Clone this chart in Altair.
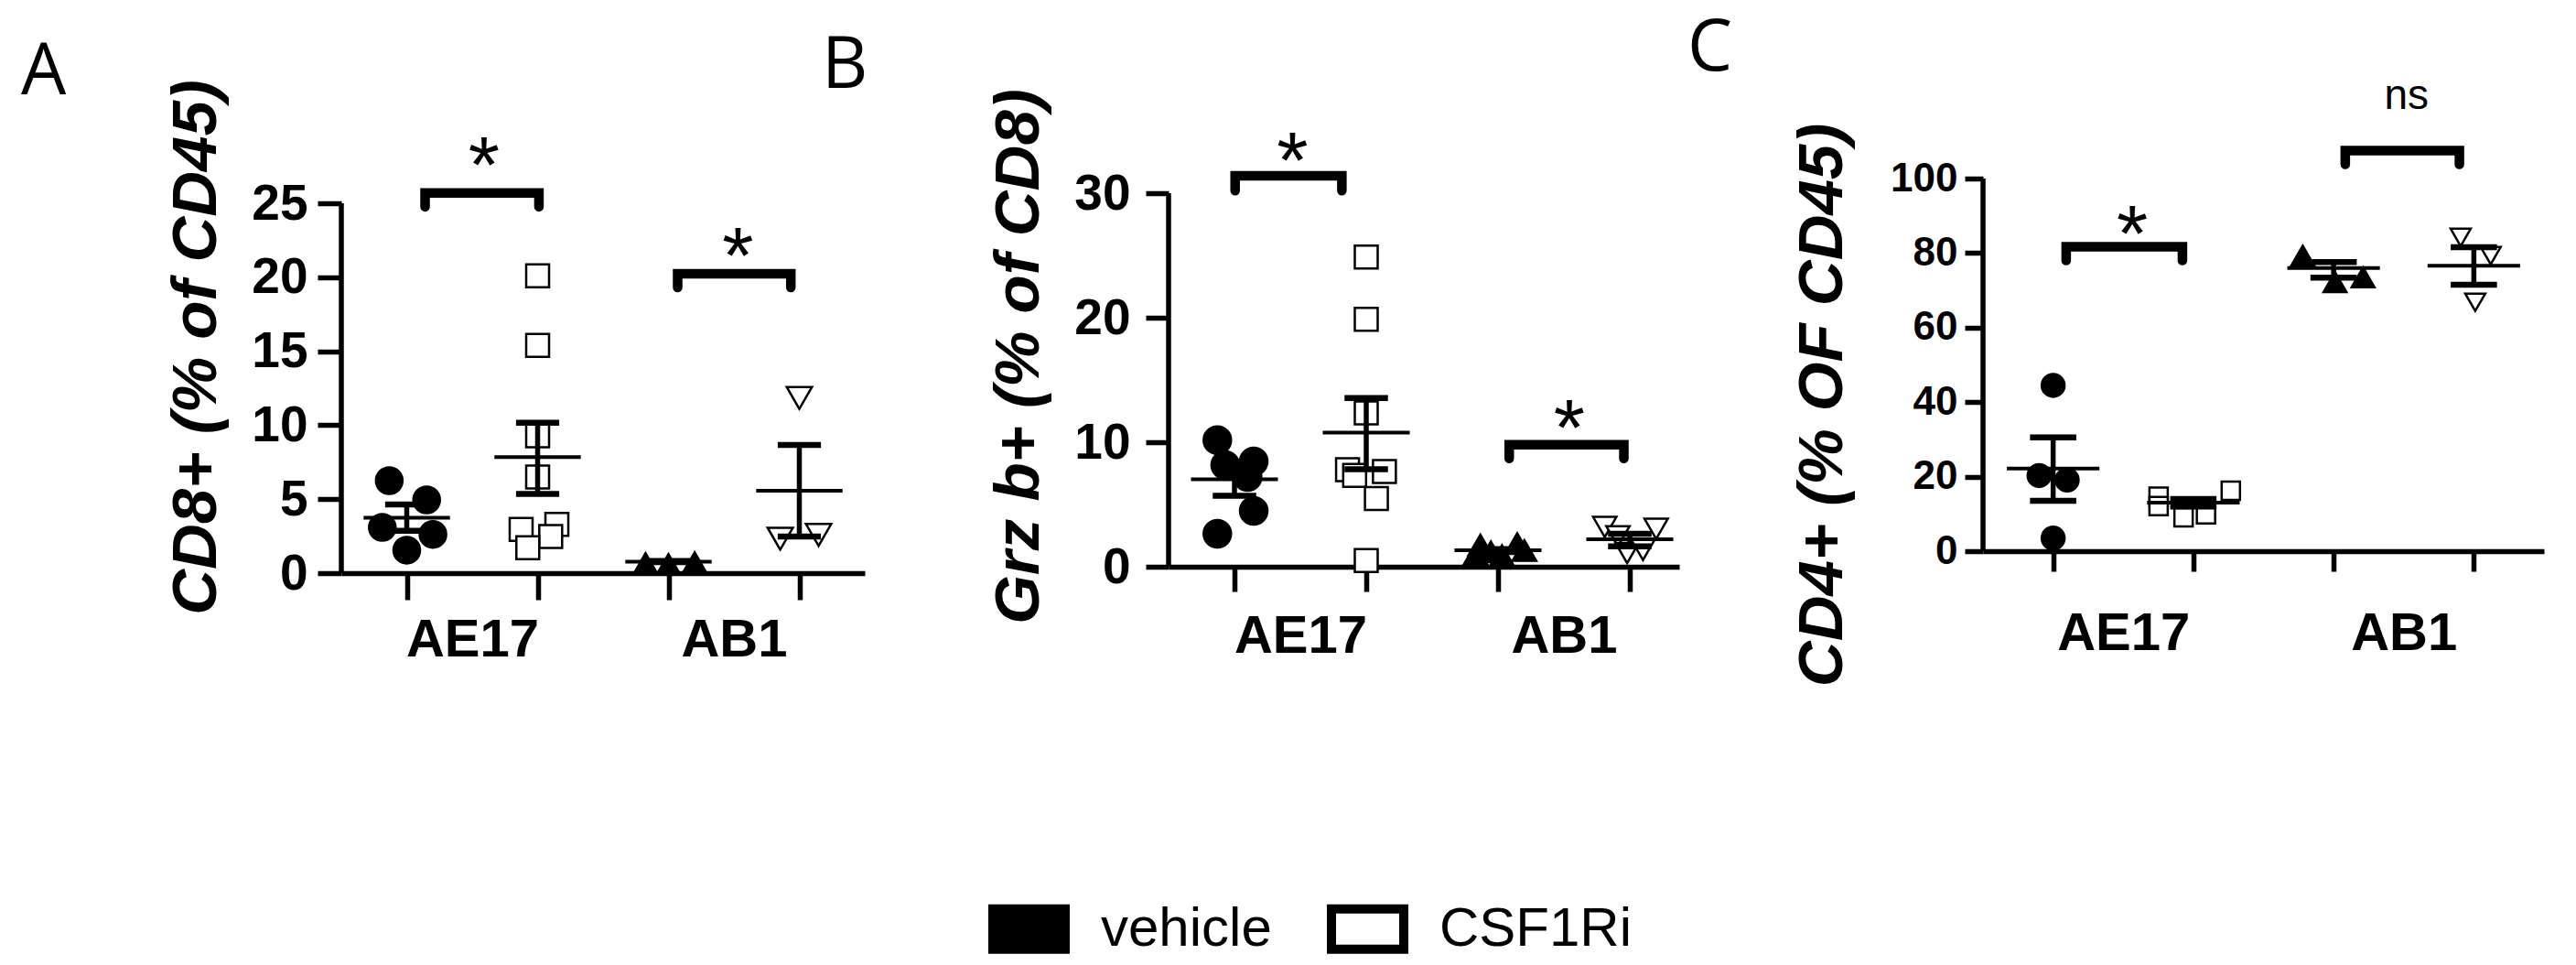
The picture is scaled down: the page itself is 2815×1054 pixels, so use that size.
import altair as alt
import pandas as pd

# ---------------- data ----------------
treat = ["vehicle", "CSF1Ri"]
slot_shapes = ["circle", "square", "triangle-up", "triangle-down"]
groups = ["AE17", "AB1"]

# Panel A : CD8+ (% of CD45)
a_vals = [
    [6.25, 4.95, 3.09, 2.62, 1.55],                      # AE17 vehicle
    [20.1, 15.4, 9.28, 6.5, 2.95, 3.3, 2.47, 1.71],      # AE17 CSF1Ri
    [0.73, 0.67, 0.79],                                  # AB1 vehicle
    [11.84, 2.33, 2.58],                                 # AB1 CSF1Ri
]
a_dx = [
    [-0.134, 0.152, -0.187, 0.2, 0.0],
    [0.0, 0.0, 0.0, 0.0, -0.126, 0.147, 0.1, -0.075],
    [-0.175, 0.0, 0.2],
    [0.0, -0.146, 0.147],
]
a_mean = [3.75, 7.84, 0.78, 5.57]
a_lo = [2.86, 5.36, 0.74, 2.47]
a_hi = [4.64, 10.16, 0.82, 8.66]
a_br_x1 = [1.14, 3.07]
a_br_x2 = [2.01, 3.935]
a_br_top = [25.7, 20.23]
a_br_leg = [24.76, 19.3]
a_lab = ["*", "*"]
a_lab_x = [1.59, 3.53]
a_lab_y = [28.7, 22.57]
a_ticks = [0, 5, 10, 15, 20, 25]

# Panel B : Grz b+ (% of CD8)
b_vals = [
    [10.17, 8.16, 8.46, 7.2, 4.49, 2.65],
    [24.88, 19.87, 12.35, 7.8, 7.33, 7.65, 5.47, 0.49],
    [1.0, 1.74, 1.2, 0.9, 1.86, 1.3],
    [3.19, 3.04, 2.45, 1.1, 1.35],
]
b_dx = [
    [-0.13, -0.07, 0.146, 0.10, 0.146, -0.13],
    [0.0, 0.0, 0.0, -0.142, -0.088, 0.138, 0.077, 0.0],
    [-0.17, -0.134, -0.054, 0.03, 0.146, 0.2],
    [-0.19, 0.2, -0.09, -0.02, 0.1],
]
b_mean = [7.03, 10.78, 1.32, 2.2]
b_lo = [5.69, 7.84, 1.22, 1.64]
b_hi = [8.37, 13.55, 1.42, 2.65]
b_br_x1 = [1.005, 3.085]
b_br_x2 = [1.815, 3.955]
b_br_top = [31.4, 9.8]
b_br_leg = [30.2, 8.7]
b_lab = ["*", "*"]
b_lab_x = [1.44, 3.54]
b_lab_y = [33.97, 12.5]
b_ticks = [0, 10, 20, 30]

# Panel C : CD4+ (% OF CD45)
c_vals = [
    [44.5, 20.3, 19.1, 3.5],
    [16.2, 14.6, 12.1, 9.1, 9.9],
    [79.3, 72.2, 73.5],
    [84.2, 79.3, 66.8],
]
c_dx = [
    [0.0, -0.1, 0.1, 0.0],
    [0.267, -0.248, -0.248, -0.07, 0.09],
    [-0.22, 0.01, 0.21],
    [-0.094, 0.12, 0.01],
]
c_mean = [22.2, 13.0, 76.0, 76.6]
c_lo = [13.5, 12.0, 73.4, 71.5]
c_hi = [30.5, 14.0, 77.6, 81.6]
c_br_x1 = [1.093, 3.083]
c_br_x2 = [1.922, 3.897]
c_br_top = [81.7, 107.5]
c_br_leg = [78.0, 103.8]
c_lab = ["*", "ns"]
c_lab_x = [1.565, 3.52]
c_lab_y = [89.7, 122.0]
c_ticks = [0, 20, 40, 60, 80, 100]

# ---------------- styling ----------------
FONT = "Liberation Sans"

legend = alt.Legend(
    title=None, orient="none", legendX=707, legendY=906, direction="horizontal",
    symbolType="M-1,-0.557H1V0.557H-1Z", symbolSize=6241,
    symbolStrokeColor="black", symbolStrokeWidth=10, symbolOpacity=1,
    labelFont=FONT, labelFontSize=60, labelColor="black", labelLimit=600,
    labelOffset=34, columnPadding=45, padding=0,
)


def points_df(vals, dxs, sizes):
    rows = []
    for s in range(4):
        for v, d in zip(vals[s], dxs[s]):
            rows.append({"xp": s + 1 + d, "val": v, "trt": treat[s % 2],
                         "shp": slot_shapes[s], "sz": sizes[s]})
    return pd.DataFrame(rows)


def summary_df(mean, lo, hi):
    pos = [1, 2, 3, 4]
    return pd.DataFrame({
        "pos": pos, "mean": mean, "lo": lo, "hi": hi,
        "ml": [p - 0.33 for p in pos], "mr": [p + 0.33 for p in pos],
        "cl": [p - 0.165 for p in pos], "cr": [p + 0.165 for p in pos],
    })


def bracket_df(x1, x2, top, leg):
    rows = []
    for i in range(len(x1)):
        for k, (bx, by) in enumerate([(x1[i], leg[i]), (x1[i], top[i]), (x2[i], top[i]), (x2[i], leg[i])]):
            rows.append({"bid": i, "seq": k, "bx": bx, "by": by})
    return pd.DataFrame(rows)


def panel(letter, vals, dxs, sizes, mean, lo, hi, bx1, bx2, btop, bleg,
          lab, labx, laby, ticks, ytitle, width, height, xmax, ymax,
          ytick, ylabpad, ylabsize, xtick, xlabpad, titlex, titley,
          letter_dx, letter_dy):
    xs = alt.Scale(domain=[0.5, xmax], nice=False, zero=False)
    ys = alt.Scale(domain=[0, ymax], nice=False, zero=False)
    xaxis = alt.Axis(
        values=[1, 1.5, 2, 3, 3.5, 4],
        labelExpr="datum.value == 1.5 ? 'AE17' : (datum.value == 3.5 ? 'AB1' : '')",
        tickOpacity={"condition": {"test": "datum.value == 1.5 || datum.value == 3.5", "value": 0}, "value": 1},
        tickSize=xtick, tickWidth=5.5, tickColor="black",
        domainColor="black", domainWidth=5.5,
        labelFont=FONT, labelFontWeight="bold", labelFontSize=58, labelColor="black",
        labelPadding=xlabpad, labelFlush=False, labelOverlap=False, grid=False, title=None,
    )
    yaxis = alt.Axis(
        values=ticks, domain=False, tickSize=ytick, tickWidth=5.5, tickColor="black",
        labelFont=FONT, labelFontWeight="bold", labelFontSize=ylabsize, labelColor="black",
        labelPadding=ylabpad, labelOverlap=False, grid=False,
        title=ytitle, titleFont=FONT, titleFontSize=69, titleFontWeight="bold",
        titleFontStyle="italic", titleColor="black", titleAngle=270, titleAlign="center",
        titleBaseline="alphabetic", titleX=titlex, titleY=titley,
    )

    def X(f):
        return alt.X(f, type="quantitative", scale=xs, axis=xaxis)

    def Y(f):
        return alt.Y(f, type="quantitative", scale=ys, axis=yaxis)

    pdf = points_df(vals, dxs, sizes)
    sdf = summary_df(mean, lo, hi)
    bdf = bracket_df(bx1, bx2, btop, bleg)
    ldf = pd.DataFrame({"lab": lab, "lx": labx, "ly": laby})
    adf = pd.DataFrame({"y0": [0], "y1": [max(ticks)]})

    yline = alt.Chart(adf).mark_rule(color="black", strokeWidth=5.5).encode(
        x=alt.value(0), y=Y("y0"), y2="y1")
    pts = alt.Chart(pdf).mark_point(filled=True, stroke="black", strokeWidth=2.5, opacity=1).encode(
        x=X("xp"), y=Y("val"),
        fill=alt.Fill("trt:N", scale=alt.Scale(domain=treat, range=["black", "white"]), legend=legend),
        shape=alt.Shape("shp:N", scale=None),
        size=alt.Size("sz:Q", scale=None),
    )
    mline = alt.Chart(sdf).mark_rule(color="black", strokeWidth=4).encode(
        x=X("ml"), x2="mr", y=Y("mean"))
    vline = alt.Chart(sdf).mark_rule(color="black", strokeWidth=5.5).encode(
        x=X("pos"), y=Y("lo"), y2="hi")
    capl = alt.Chart(sdf).mark_rule(color="black", strokeWidth=6.5).encode(
        x=X("cl"), x2="cr", y=Y("lo"))
    caph = alt.Chart(sdf).mark_rule(color="black", strokeWidth=6.5).encode(
        x=X("cl"), x2="cr", y=Y("hi"))
    brk = alt.Chart(bdf).mark_line(color="black", strokeWidth=10.5, strokeCap="round",
                                   strokeJoin="miter").encode(
        x=X("bx"), y=Y("by"), detail="bid:N", order="seq:Q")
    stars = alt.Chart(ldf).transform_filter("datum.lab == '*'").mark_text(
        font=FONT, fontSize=88, baseline="alphabetic", dy=48, align="center", color="black").encode(
        x=X("lx"), y=Y("ly"), text="lab:N")
    ns = alt.Chart(ldf).transform_filter("datum.lab != '*'").mark_text(
        font=FONT, fontSize=46, baseline="middle", align="center", color="black").encode(
        x=X("lx"), y=Y("ly"), text="lab:N")

    return alt.layer(yline, pts, mline, vline, capl, caph, brk, stars, ns).properties(
        width=width, height=height,
        title=alt.TitleParams(text=letter, anchor="start", frame="group", orient="top",
                              dx=letter_dx, dy=letter_dy, offset=0, baseline="alphabetic",
                              align="left", font="Open Sans", fontSize=78,
                              fontWeight="normal", color="black"),
    )


pA = panel("A", a_vals, a_dx, [841, 625, 530, 760], a_mean, a_lo, a_hi,
           a_br_x1, a_br_x2, a_br_top, a_br_leg, a_lab, a_lab_x, a_lab_y,
           a_ticks, "CD8+ (% of CD45)", 572, 562, 4.5, 562 / 16.16,
           26, 11, 55, 29, 15, -138, 315, -350, 117)
pB = panel("B", b_vals, b_dx, [900, 625, 676, 650], b_mean, b_lo, b_hi,
           b_br_x1, b_br_x2, b_br_top, b_br_leg, b_lab, b_lab_x, b_lab_y,
           b_ticks, "Grz b+ (% of CD8)", 558, 555, 4.375, 555 / 13.6,
           25, 17, 55, 27, 20, -143, 325, -379, 110)
pC = panel("C", c_vals, c_dx, [625, 400, 625, 480], c_mean, c_lo, c_hi,
           c_br_x1, c_br_x2, c_br_top, c_br_leg, c_lab, c_lab_x, c_lab_y,
           c_ticks, "CD4+ (% OF CD45)", 613, 538, 4.5, 538 / 4.07,
           20, 8, 44, 22, 39, -155, 378, -323, 91)

chart = alt.hconcat(pA, pB, pC, spacing=332, bounds="flush").resolve_scale(
    x="independent", y="independent", fill="shared"
).properties(
    padding={"left": 15, "top": 7, "right": 10, "bottom": 5}
).configure_view(strokeWidth=0)

chart.save("out.html", embed_options={"renderer": "svg", "actions": False})
